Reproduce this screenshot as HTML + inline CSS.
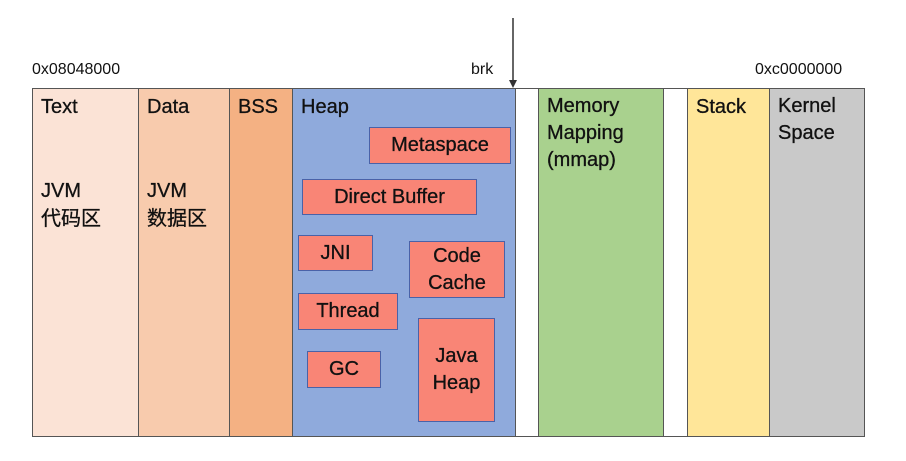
<!DOCTYPE html>
<html><head><meta charset="utf-8"><style>
body{margin:0;width:906px;height:461px;background:#fff;position:relative;overflow:hidden;font-family:"Liberation Sans","Noto Sans CJK SC",sans-serif;color:#111}
div{position:absolute;box-sizing:border-box}
.c{top:88px;height:349px;border:1.5px solid #555;border-right:none}
.t{font-size:20px;line-height:28px;padding:4px 0 0 8px;-webkit-text-stroke:0.3px #111}
.r{background:#f98576;border:1.5px solid #4a62a8;font-size:20px;line-height:27px;text-align:center;display:flex;align-items:center;justify-content:center;-webkit-text-stroke:0.3px #111}
.s{font-size:16px}
</style></head><body>
<div class="s" style="left:32px;top:61px">0x08048000</div>
<div class="s" style="left:471px;top:61px">brk</div>
<div class="s" style="left:755px;top:61px">0xc0000000</div>
<svg style="position:absolute;left:0;top:0" width="906" height="461"><line x1="513" y1="18" x2="513" y2="84" stroke="#333" stroke-width="1.5"/><polygon points="509,80 517,80 513,88" fill="#333"/></svg>
<div class="c t" style="left:32px;width:106px;background:#fbe3d6">Text<br><br><br>JVM<br>代码区</div>
<div class="c t" style="left:138px;width:91px;background:#f8cbad">Data<br><br><br>JVM<br>数据区</div>
<div class="c t" style="left:229px;width:63px;background:#f4b183">BSS</div>
<div class="c t" style="left:292px;width:223px;background:#8faadc">Heap</div>
<div class="c" style="left:515px;width:23px;background:#fff"></div>
<div class="c t" style="left:538px;width:125px;background:#a9d18e;line-height:27px">Memory<br>Mapping<br>(mmap)</div>
<div class="c" style="left:663px;width:24px;background:#fff"></div>
<div class="c t" style="left:687px;width:82px;background:#ffe699">Stack</div>
<div class="c t" style="left:769px;width:96px;background:#c9c9c9;border-right:1.5px solid #555;line-height:27px">Kernel<br>Space</div>
<div class="r" style="left:369px;top:127px;width:142px;height:37px">Metaspace</div>
<div class="r" style="left:302px;top:179px;width:175px;height:36px">Direct Buffer</div>
<div class="r" style="left:298px;top:235px;width:75px;height:36px">JNI</div>
<div class="r" style="left:409px;top:241px;width:96px;height:57px">Code<br>Cache</div>
<div class="r" style="left:298px;top:293px;width:100px;height:37px">Thread</div>
<div class="r" style="left:307px;top:351px;width:74px;height:37px">GC</div>
<div class="r" style="left:418px;top:318px;width:77px;height:104px">Java<br>Heap</div>
</body></html>
